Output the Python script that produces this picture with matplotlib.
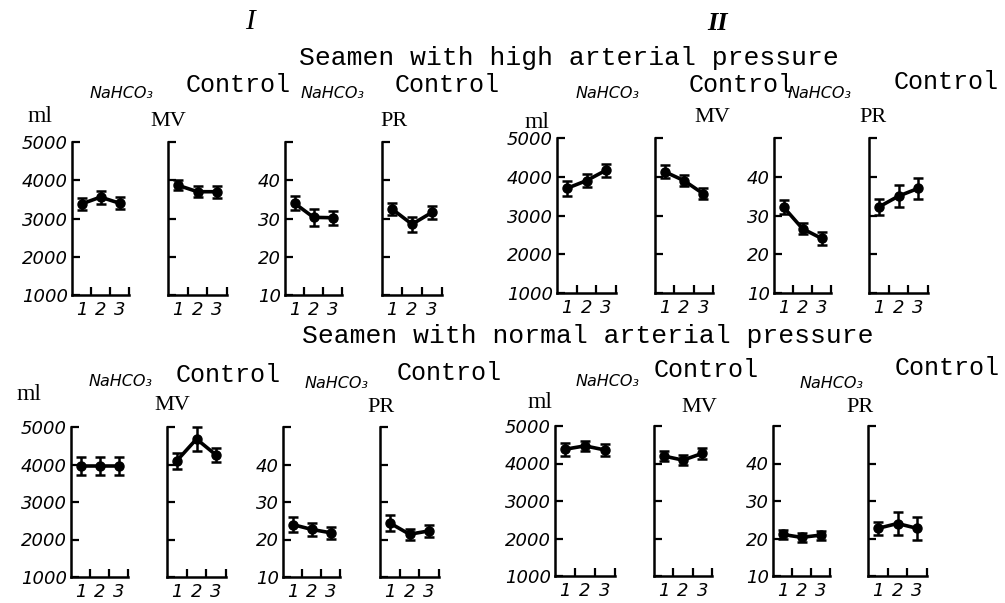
import matplotlib
matplotlib.use("Agg")
import matplotlib.pyplot as plt

# ---------------- data ----------------
trials = [1, 2, 3]
mv_ticks = [1000, 2000, 3000, 4000, 5000]
mv_labels = ["1000", "2000", "3000", "4000", "5000"]
pr_ticks = [10, 20, 30, 40, 50]
pr_labels = ["10", "20", "30", "40", ""]

# Seamen with high arterial pressure
high_I_nahco3_mv = [3380, 3560, 3400]
high_I_nahco3_mv_err = [150, 170, 150]
high_I_control_mv = [3870, 3700, 3700]
high_I_control_mv_err = [130, 140, 160]
high_I_nahco3_pr = [34.0, 30.3, 30.2]
high_I_nahco3_pr_err = [1.8, 2.2, 1.8]
high_I_control_pr = [32.5, 28.5, 31.6]
high_I_control_pr_err = [1.6, 2.0, 1.6]
high_II_nahco3_mv = [3700, 3900, 4170]
high_II_nahco3_mv_err = [200, 170, 170]
high_II_control_mv = [4130, 3900, 3560]
high_II_control_mv_err = [170, 150, 140]
high_II_nahco3_pr = [32.2, 26.6, 24.1]
high_II_nahco3_pr_err = [1.8, 1.5, 1.6]
high_II_control_pr = [32.2, 35.0, 37.0]
high_II_control_pr_err = [2.0, 2.8, 2.8]

# Seamen with normal arterial pressure
norm_I_nahco3_mv = [3960, 3960, 3960]
norm_I_nahco3_mv_err = [230, 230, 230]
norm_I_control_mv = [4100, 4680, 4250]
norm_I_control_mv_err = [220, 330, 180]
norm_I_nahco3_pr = [24.0, 22.7, 21.8]
norm_I_nahco3_pr_err = [2.0, 1.8, 1.6]
norm_I_control_pr = [24.4, 21.4, 22.3]
norm_I_control_pr_err = [2.2, 1.5, 1.7]
norm_II_nahco3_mv = [4380, 4470, 4360]
norm_II_nahco3_mv_err = [180, 130, 150]
norm_II_control_mv = [4200, 4090, 4270]
norm_II_control_mv_err = [130, 130, 150]
norm_II_nahco3_pr = [21.1, 20.3, 20.9]
norm_II_nahco3_pr_err = [1.2, 1.2, 1.2]
norm_II_control_pr = [22.7, 24.0, 22.7]
norm_II_control_pr_err = [1.8, 3.0, 3.0]

W, H = 1005, 603
fig = plt.figure(figsize=(W / 100, H / 100), dpi=100)
fig.patch.set_facecolor("white")

SANS = ["DejaVu Sans"]
MONO = ["Liberation Mono", "DejaVu Sans Mono"]
SERIF = ["Liberation Serif", "DejaVu Serif"]


def px_axes(x0, x1, ytop, ybot):
    return fig.add_axes([x0 / W, 1 - ybot / H, (x1 - x0) / W, (ybot - ytop) / H])


def txt(x, y, s, family, size, style="normal", weight="normal", ha="left"):
    fig.text(x / W, 1 - y / H, s, family=family, fontsize=size, fontstyle=style,
             fontweight=weight, ha=ha, va="center", color="black")


def panel(rect, vals, errs, kind, labelled):
    ax = px_axes(*rect)
    ax.set_facecolor("none")
    ax.errorbar(trials, vals, yerr=errs, color="black", lw=2.6, marker="o",
                ms=6.5, capsize=3.5, capthick=1.8, elinewidth=1.8)
    ax.set_xlim(0.5, 3.5)
    if kind == "mv":
        ax.set_ylim(1000, 5000)
        ax.set_yticks(mv_ticks)
        ax.set_yticklabels(mv_labels if labelled else [""] * 5)
    else:
        ax.set_ylim(10, 50)
        ax.set_yticks(pr_ticks)
        ax.set_yticklabels(pr_labels if labelled else [""] * 5)
    for s in ["top", "right"]:
        ax.spines[s].set_visible(False)
    for s in ["left", "bottom"]:
        ax.spines[s].set_linewidth(1.8)
    ax.set_xticks([1.5, 2.5, 3.5])
    ax.set_xticklabels(["", "", ""])
    ax.set_xticks(trials, minor=True)
    ax.set_xticklabels([str(t) for t in trials], minor=True)
    ax.tick_params(axis="x", which="major", direction="in", length=6, width=1.6)
    ax.tick_params(axis="x", which="minor", length=0, pad=4, labelsize=13)
    ax.tick_params(axis="y", direction="in", length=6, width=1.6, pad=3,
                   labelsize=13)
    for lab in ax.get_xticklabels(minor=True) + ax.get_yticklabels():
        lab.set_fontstyle("italic")
        lab.set_family(SANS)
    for art in ax.get_children():
        try:
            art.set_clip_on(False)
        except Exception:
            pass
    return ax


# panel rectangles (x-left, x-right, y-top, y-bottom) in pixels
top_left_x = [(72, 129), (168, 227), (285, 342), (382, 442)]
top_right_x = [(557, 616), (655, 713), (774, 831), (869, 928)]
bot_left_x = [(71, 128), (167, 226), (283, 340), (380, 439)]
bot_right_x = [(555, 615), (654, 712), (773, 830), (868, 927)]

rows = [
    (top_left_x, 142, 295, [
        (high_I_nahco3_mv, high_I_nahco3_mv_err, "mv", True),
        (high_I_control_mv, high_I_control_mv_err, "mv", False),
        (high_I_nahco3_pr, high_I_nahco3_pr_err, "pr", True),
        (high_I_control_pr, high_I_control_pr_err, "pr", False)]),
    (top_right_x, 138, 293, [
        (high_II_nahco3_mv, high_II_nahco3_mv_err, "mv", True),
        (high_II_control_mv, high_II_control_mv_err, "mv", False),
        (high_II_nahco3_pr, high_II_nahco3_pr_err, "pr", True),
        (high_II_control_pr, high_II_control_pr_err, "pr", False)]),
    (bot_left_x, 427, 577, [
        (norm_I_nahco3_mv, norm_I_nahco3_mv_err, "mv", True),
        (norm_I_control_mv, norm_I_control_mv_err, "mv", False),
        (norm_I_nahco3_pr, norm_I_nahco3_pr_err, "pr", True),
        (norm_I_control_pr, norm_I_control_pr_err, "pr", False)]),
    (bot_right_x, 426, 576, [
        (norm_II_nahco3_mv, norm_II_nahco3_mv_err, "mv", True),
        (norm_II_control_mv, norm_II_control_mv_err, "mv", False),
        (norm_II_nahco3_pr, norm_II_nahco3_pr_err, "pr", True),
        (norm_II_control_pr, norm_II_control_pr_err, "pr", False)]),
]

for xs, yt, yb, specs in rows:
    for (x0, x1), (v, e, k, lab) in zip(xs, specs):
        panel((x0, x1, yt, yb), v, e, k, lab)

# ---------------- texts ----------------
txt(250, 22, "I", SERIF, 21, style="italic", ha="center")
txt(718, 24, "II", SERIF, 19, style="italic", weight="bold", ha="center")
txt(569, 58, "Seamen with high arterial pressure", MONO, 19, ha="center")
txt(588, 336, "Seamen with normal arterial pressure", MONO, 19, ha="center")

NA = "NaHCO\u2083"
NS = 11.5
CS = 18
# top row
txt(40, 116, "ml", SERIF, 17, ha="center")
txt(121, 93, NA, SANS, NS, style="italic", ha="center")
txt(238, 85, "Control", MONO, CS, ha="center")
txt(168, 122, "MV", SERIF, 16, ha="center")
txt(332, 94, NA, SANS, NS, style="italic", ha="center")
txt(447, 85, "Control", MONO, CS, ha="center")
txt(394, 122, "PR", SERIF, 16, ha="center")

txt(537, 122, "ml", SERIF, 17, ha="center")
txt(607, 93, NA, SANS, NS, style="italic", ha="center")
txt(741, 85, "Control", MONO, CS, ha="center")
txt(712, 118, "MV", SERIF, 16, ha="center")
txt(820, 94, NA, SANS, NS, style="italic", ha="center")
txt(946, 82, "Control", MONO, CS, ha="center")
txt(873, 118, "PR", SERIF, 16, ha="center")

# bottom row
txt(29, 394, "ml", SERIF, 17, ha="center")
txt(120, 381, NA, SANS, NS, style="italic", ha="center")
txt(228, 375, "Control", MONO, CS, ha="center")
txt(172, 405, "MV", SERIF, 16, ha="center")
txt(336, 383, NA, SANS, NS, style="italic", ha="center")
txt(449, 373, "Control", MONO, CS, ha="center")
txt(381, 407, "PR", SERIF, 16, ha="center")

txt(540, 402, "ml", SERIF, 17, ha="center")
txt(607, 382, NA, SANS, NS, style="italic", ha="center")
txt(706, 370, "Control", MONO, CS, ha="center")
txt(699, 408, "MV", SERIF, 16, ha="center")
txt(831, 384, NA, SANS, NS, style="italic", ha="center")
txt(947, 368, "Control", MONO, CS, ha="center")
txt(860, 407, "PR", SERIF, 16, ha="center")

fig.savefig("out.png", dpi=100, facecolor="white")
